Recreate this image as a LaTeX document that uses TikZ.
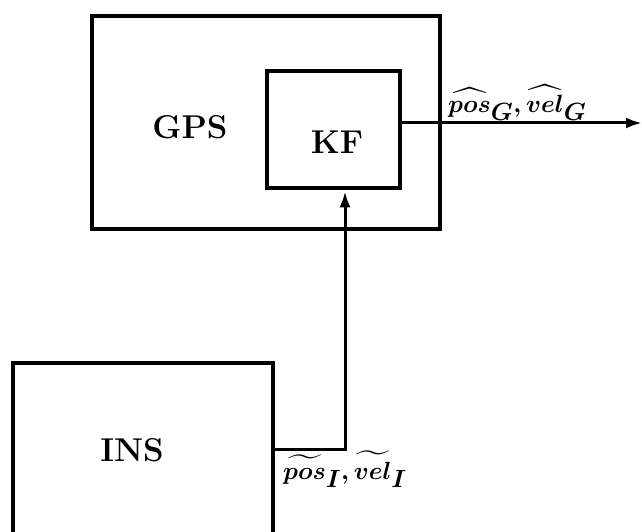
\documentclass[tikz,border=0pt]{standalone}
\usepackage{amsmath,amssymb}
\usetikzlibrary{arrows.meta,positioning,calc}

\begin{document}
\begin{tikzpicture}[x=1pt, y=-1pt,
    box/.style={draw, line width=3.5pt, inner sep=0pt},
    blockname/.style={font=\fontsize{33}{40}\selectfont\bfseries},
    signal/.style={font=\fontsize{33}{40}\selectfont\boldmath, inner sep=0pt},
    flow/.style={line width=3pt, -{Latex[length=16pt, width=11pt]}}]
    \useasboundingbox (0,0) rectangle (642,532);
    \fill[white] (0,0) rectangle (642,532);
    \clip (0,0) rectangle (642,532);

    % blocks
    \node[box, minimum width=348pt, minimum height=213pt] (gps) at (266,122.5) {};
    \node[blockname] (gpsname) at (190,127) {GPS};
    \node[box, minimum width=133pt, minimum height=117pt] (kf) at (333.5,129.5) {};
    \node[blockname] (kfname) at (337,142) {KF};
    \node[box, minimum width=260pt, minimum height=190pt] (ins) at (143,458) {};
    \node[blockname] (insname) at (132,450) {INS};

    % signals
    \coordinate (out) at (642,123);
    \draw[flow] (kf.east |- out) -- (out);
    \node[signal, anchor=south west] (gpsout) at (448,121) {$\widehat{pos}_G, \widehat{vel}_G$};

    \coordinate (join) at (345,449);
    \draw[flow, shorten >=1.5pt] (ins.east |- join) -- (join) -- (join |- kf.south);
    \node[signal, anchor=north west] (insout) at (283,451) {$\widetilde{pos}_I, \widetilde{vel}_I$};
\end{tikzpicture}
\end{document}
